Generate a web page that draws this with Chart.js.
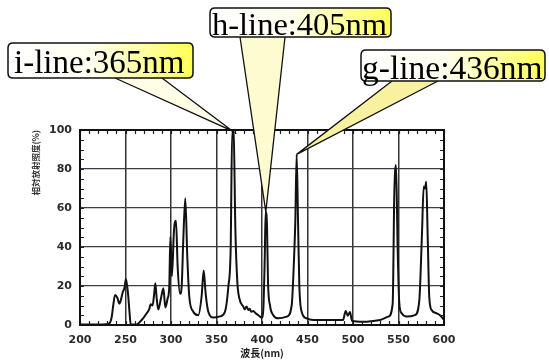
<!DOCTYPE html>
<html>
<head>
<meta charset="utf-8">
<script src="https://cdn.jsdelivr.net/npm/chart.js@4"></script>
<style>
  html, body { margin: 0; padding: 0; background: #fff; }
  #wrap { width: 549px; height: 361px; }
</style>
</head>
<body>
<div id="wrap"><canvas id="spectrum" width="549" height="361"></canvas></div>
<script>
// Wavelength (nm) and relative irradiance (%)
var wavelengths = [200, 225, 232, 234.8, 236.5, 238.5, 241, 243.2, 245, 246.9, 248.8, 250.5, 251.8, 253, 254.5, 255.7, 258, 262.3, 266, 269.5, 273.3, 276, 277.7, 279.8, 281.5, 282.8, 284.2, 286, 289, 291.6, 293.8, 296.3, 298.1, 299.3, 301, 303.3, 305.5, 307.3, 310, 311.7, 313.5, 315.7, 317.9, 320.1, 324.5, 330, 333.7, 335.9, 338.1, 341, 346.5, 353.8, 359.3, 363, 365.6, 367.2, 368.8, 370.8, 372.9, 375.1, 379.5, 381, 383, 385, 386.5, 388, 390.5, 393, 396, 399.7, 401.4, 403, 404, 405.5, 406.6, 408.8, 412.4, 417.9, 427.1, 432.6, 435.2, 436.6, 438.1, 439.6, 441, 443.6, 449, 456.4, 475, 489, 492, 494.2, 496.7, 498.9, 511.3, 529.7, 538.8, 543.6, 545.4, 547.3, 549.1, 550.9, 553.5, 559, 568.1, 572.9, 575.8, 577.7, 579.1, 580.5, 582, 583.8, 586.4, 591.9, 595.6, 599.3, 600];
var irradiance  = [0.3, 0.3, 0.8, 4, 10, 15.4, 14, 11, 13, 16.7, 19, 23.4, 20, 15, 6, 0.5, 0.3, 0.3, 1.7, 3.5, 6, 8, 10.7, 10, 16, 21.4, 14, 8, 13.7, 18.8, 9, 13.6, 19.6, 45.3, 25, 48.7, 53.5, 30, 16, 19.6, 43.6, 65, 35, 14.5, 6.8, 5, 15, 27.9, 16, 6.8, 3.8, 4.4, 6.8, 19.6, 40, 99.2, 99, 47.9, 22, 13.7, 9.4, 8, 9.5, 7.7, 8.3, 6.8, 7.2, 6, 5, 3.8, 7.7, 34, 58, 51, 22, 10, 5, 3.4, 4.3, 10, 34, 53, 87.5, 53, 20.5, 6.8, 3.4, 2.6, 2.6, 2.6, 7.2, 4.8, 6.7, 2.2, 1.7, 2.6, 4.3, 11, 67.5, 82, 38.5, 11, 6, 4.3, 5.1, 12.8, 47, 71, 70, 73.5, 47, 14.5, 7.7, 6, 5, 3, 2.6];

var xTicks = [200, 250, 300, 350, 400, 450, 500, 550, 600];
var yTicks = [0, 20, 40, 60, 80, 100];

// callouts: label, the peak it points at
var calloutLabels = ['i-line:365nm', 'h-line:405nm', 'g-line:436nm'];
var calloutPeakX  = [367.8, 404.2, 438.1];
var calloutPeakY  = [99.4, 58, 87.5];

var points = wavelengths.map(function (w, i) { return { x: w, y: irradiance[i] }; });

// box geometry of the callouts (x0, y0, x1, y1, text x, baseline, pointer base left/right, pointer colour)
var calloutBoxes = [
  { x0: 8, y0: 43, x1: 193, y1: 78, tx: 14, ty: 73, size: 33, b0: 115, b1: 162, fill: '#fffde6' },
  { x0: 210, y0: 8, x1: 391, y1: 37, tx: 212, ty: 35, size: 32.5, b0: 240, b1: 285, fill: '#fffbd0' },
  { x0: 361, y0: 50, x1: 545, y1: 81, tx: 362, ty: 79, size: 33.5, b0: 392, b1: 438, fill: '#f8f2a0' }
];

function roundRect(ctx, x, y, w, h, r) {
  ctx.beginPath();
  ctx.moveTo(x + r, y);
  ctx.lineTo(x + w - r, y);
  ctx.quadraticCurveTo(x + w, y, x + w, y + r);
  ctx.lineTo(x + w, y + h - r);
  ctx.quadraticCurveTo(x + w, y + h, x + w - r, y + h);
  ctx.lineTo(x + r, y + h);
  ctx.quadraticCurveTo(x, y + h, x, y + h - r);
  ctx.lineTo(x, y + r);
  ctx.quadraticCurveTo(x, y, x + r, y);
  ctx.closePath();
}

var framePlugin = {
  id: 'frame',
  afterDatasetsDraw: function (chart) {
    var ctx = chart.ctx, a = chart.chartArea;
    var xs = chart.scales.x, ys = chart.scales.y;
    ctx.save();
    ctx.strokeStyle = '#222';
    ctx.lineWidth = 1.2;
    // minor ticks every 10 nm, top and bottom
    for (var w = 200; w <= 600; w += 10) {
      var px = Math.round(xs.getPixelForValue(w)) + 0.5;
      ctx.beginPath();
      ctx.moveTo(px, a.top); ctx.lineTo(px, a.top + 4);
      ctx.moveTo(px, a.bottom); ctx.lineTo(px, a.bottom - 4);
      ctx.stroke();
    }
    // minor ticks every 5 %, left and right
    for (var v = 0; v <= 100; v += 5) {
      var py = Math.round(ys.getPixelForValue(v)) + 0.5;
      ctx.beginPath();
      ctx.moveTo(a.left, py); ctx.lineTo(a.left + 4, py);
      ctx.moveTo(a.right, py); ctx.lineTo(a.right - 4, py);
      ctx.stroke();
    }
    ctx.lineWidth = 2;
    ctx.strokeStyle = '#111';
    ctx.strokeRect(a.left, a.top, a.right - a.left, a.bottom - a.top);
    ctx.restore();
  },
  afterDraw: function (chart) {
    var ctx = chart.ctx;
    var xs = chart.scales.x, ys = chart.scales.y;
    ctx.save();
    calloutBoxes.forEach(function (b, i) {
      var tipX = xs.getPixelForValue(calloutPeakX[i]);
      var tipY = ys.getPixelForValue(calloutPeakY[i]);
      // pointer
      ctx.beginPath();
      ctx.moveTo(b.b0, b.y1);
      ctx.lineTo(tipX, tipY);
      ctx.lineTo(b.b1, b.y1);
      ctx.closePath();
      ctx.fillStyle = b.fill;
      ctx.fill();
      ctx.beginPath();
      ctx.moveTo(b.b0, b.y1);
      ctx.lineTo(tipX, tipY);
      ctx.lineTo(b.b1, b.y1);
      ctx.strokeStyle = '#111';
      ctx.lineWidth = 1.3;
      ctx.stroke();
      // box
      var g = ctx.createLinearGradient(b.x0, 0, b.x1, 0);
      g.addColorStop(0, '#ffffff');
      g.addColorStop(0.45, '#fffff0');
      g.addColorStop(1, '#ffff55');
      roundRect(ctx, b.x0, b.y0, b.x1 - b.x0, b.y1 - b.y0, 5);
      ctx.fillStyle = g;
      ctx.fill();
      ctx.lineWidth = 1.5;
      ctx.strokeStyle = '#111';
      ctx.stroke();
      // text
      ctx.fillStyle = '#000';
      ctx.font = b.size + 'px "Liberation Serif"';
      ctx.textBaseline = 'alphabetic';
      ctx.textAlign = 'left';
      ctx.fillText(calloutLabels[i], b.tx, b.ty);
    });
    ctx.restore();
  }
};

var chart = new Chart(document.getElementById('spectrum'), {
  type: 'line',
  data: {
    datasets: [{
      data: points,
      borderColor: '#111',
      borderWidth: 2,
      pointRadius: 0,
      cubicInterpolationMode: 'monotone',
      fill: false
    }]
  },
  options: {
    responsive: false,
    animation: false,
    parsing: false,
    layout: { padding: { top: 130, right: 105, left: 0, bottom: 0 } },
    plugins: { legend: { display: false }, tooltip: { enabled: false } },
    scales: {
      x: {
        type: 'linear',
        min: 200,
        max: 600,
        afterFit: function (s) { s.height = 36; },
        afterBuildTicks: function (s) { s.ticks = xTicks.map(function (v) { return { value: v }; }); },
        grid: { color: '#333', lineWidth: 1.5, drawTicks: false },
        border: { display: false },
        ticks: { padding: 9, color: '#2a2a2a', font: { family: 'DejaVu Sans', size: 11, weight: 'bold' } },
        title: {
          display: true,
          text: '波長(nm)',
          color: '#222',
          padding: { top: 0, bottom: 2 },
          font: { family: 'Noto Sans CJK JP', size: 10, weight: 'bold' }
        }
      },
      y: {
        min: 0,
        max: 100,
        afterFit: function (s) { s.width = 80; },
        afterBuildTicks: function (s) { s.ticks = yTicks.map(function (v) { return { value: v }; }); },
        grid: { color: '#3a3d48', lineWidth: 1.3, drawTicks: false },
        border: { display: false },
        ticks: { padding: 8, color: '#2a2a2a', font: { family: 'DejaVu Sans', size: 11, weight: 'bold' } },
        title: {
          display: true,
          text: '相対放射照度(%)',
          align: 'end',
          color: '#333',
          padding: { top: 31, bottom: 0 },
          font: { family: 'Noto Sans CJK JP', size: 8.5, weight: 'bold' }
        }
      }
    }
  },
  plugins: [framePlugin]
});
</script>
</body>
</html>
